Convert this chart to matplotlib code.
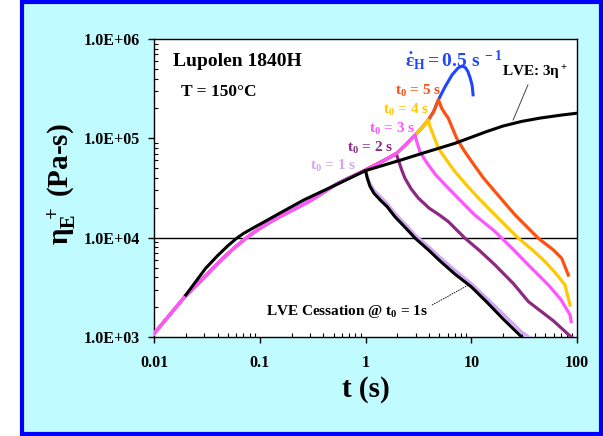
import matplotlib
matplotlib.use("Agg")
import matplotlib.pyplot as plt
from matplotlib.patches import Rectangle

plt.rcParams["font.family"] = ["Liberation Serif", "DejaVu Serif"]
plt.rcParams["font.weight"] = "bold"
plt.rcParams["mathtext.fontset"] = "custom"
plt.rcParams["mathtext.rm"] = "Liberation Serif:bold"
plt.rcParams["mathtext.bf"] = "Liberation Serif:bold"
plt.rcParams["mathtext.it"] = "Liberation Serif:bold:italic"

# shared nonlinear growth curve (all coloured runs)
growth_t = [0.01, 0.0196, 0.032, 0.04, 0.05, 0.06, 0.07, 0.08, 0.09, 0.11, 0.15, 0.2, 0.3, 0.54,
            1.0, 1.5, 1.95, 2.4, 2.94, 3.4, 3.93, 4.4, 4.89]
growth_eta = [1.08e3, 2.55e3, 4.3e3, 5.5e3, 6.9e3, 8.2e3, 9.4e3, 1.05e4, 1.15e4, 1.32e4, 1.6e4,
              1.87e4, 2.35e4, 3.5e4, 4.8e4, 6.0e4, 7.0e4, 8.6e4, 1.08e5, 1.27e5, 1.53e5,
              1.85e5, 2.44e5]

# continuation of constant rate run (0.5 1/s) up to rupture
blue_t = [5.65, 6.58, 7.5, 8.0, 8.36, 8.8, 9.3, 9.8, 10.2, 10.4]
blue_eta = [3.3e5, 4.35e5, 5.1e5, 5.3e5, 5.3e5, 5.15e5, 4.7e5, 4.0e5, 3.4e5, 2.74e5]

# relaxation after cessation at t0
t0_values = [1, 2, 3, 4, 5]
t0_peak = {1: 1.0, 2: 1.95, 3: 2.94, 4: 3.93, 5: 4.89}
decay_t = {
    1: [1.04, 1.1, 1.2, 1.4, 1.6, 1.9, 2.4, 2.94, 4.0, 5.0, 7.0, 10.0, 14.0, 20.0, 30.0, 35.0],
    2: [2.05, 2.2, 2.36, 2.7, 3.16, 4.0, 5.0, 6.07, 8.73, 12.0, 16.8, 25.0, 34.7, 60.0, 88.0],
    3: [3.05, 3.27, 3.6, 3.93, 4.6, 5.65, 8.1, 10.8, 16.8, 25.0, 34.7, 53.6, 70.0, 86.0, 88.0],
    4: [4.07, 4.38, 4.89, 5.8, 7.0, 9.0, 11.7, 16.8, 27.9, 38.0, 49.9, 65.0, 77.0, 86.0],
    5: [5.26, 5.6, 6.07, 7.28, 8.5, 10.1, 13.0, 16.8, 26.0, 43.0, 60.0, 71.6, 82.8],
}
decay_eta = {
    1: [4.1e4, 3.5e4, 3.0e4, 2.55e4, 2.2e4, 1.75e4, 1.35e4, 1.06e4, 8.0e3, 6.4e3, 4.7e3,
        3.45e3, 2.45e3, 1.7e3, 1.12e3, 1.0e3],
    2: [6.0e4, 4.8e4, 3.96e4, 3.1e4, 2.5e4, 1.98e4, 1.69e4, 1.45e4, 9.86e3, 7.4e3, 5.3e3,
        3.45e3, 2.27e3, 1.45e3, 1.0e3],
    3: [9.27e4, 7.35e4, 6.2e4, 5.4e4, 4.3e4, 3.4e4, 2.3e4, 1.69e4, 1.15e4, 7.6e3, 5.3e3,
        3.34e3, 2.4e3, 1.67e3, 1.43e3],
    4: [1.31e5, 1.08e5, 7.94e4, 6.1e4, 4.62e4, 3.4e4, 2.5e4, 1.69e4, 9.86e3, 7.5e3, 5.74e3,
        4.2e3, 3.34e3, 2.1e3],
    5: [2.0e5, 1.8e5, 1.59e5, 1.0e5, 7.6e4, 5.82e4, 4.0e4, 2.9e4, 1.69e4, 9.86e3, 7.5e3,
        6.2e3, 4.2e3],
}
run_colors = {1: "#d2a6f5", 2: "#8c2a82", 3: "#ff55ff", 4: "#ffc800", 5: "#ff5010"}

# linear viscoelastic envelope 3*eta+ and LVE cessation at 1 s
lve_t = [0.02, 0.0308, 0.04, 0.05, 0.06, 0.07, 0.09, 0.11, 0.16, 0.262, 0.54, 1.0, 2.19, 3.5,
         7.0, 14.0, 20.0, 30.0, 45.0, 70.0, 100.0]
lve_eta = [2.65e3, 4.92e3, 6.6e3, 8.3e3, 9.8e3, 1.1e4, 1.28e4, 1.44e4, 1.8e4, 2.4e4, 3.45e4,
           4.73e4, 6.07e4, 7.1e4, 8.9e4, 1.17e5, 1.33e5, 1.48e5, 1.6e5, 1.71e5, 1.79e5]
cess_t = [1.0, 1.04, 1.1, 1.2, 1.4, 1.6, 1.9, 2.4, 2.94, 4.0, 5.0, 7.0, 10.0, 14.0, 20.0, 30.0]
cess_eta = [4.73e4, 3.96e4, 3.3e4, 2.8e4, 2.35e4, 2.05e4, 1.62e4, 1.25e4, 9.9e3, 7.4e3, 5.9e3,
            4.3e3, 3.2e3, 2.25e3, 1.52e3, 1.0e3]

yticks = [1e3, 1e4, 1e5, 1e6]
ytick_labels = ["1.0E+03", "1.0E+04", "1.0E+05", "1.0E+06"]
xticks = [0.01, 0.1, 1, 10, 100]
xtick_labels = ["0.01", "0.1", "1", "10", "100"]

fig = plt.figure(figsize=(6.03, 4.36), dpi=100)
fig.patch.set_facecolor("white")
fig.patches.append(Rectangle((22 / 603, 2 / 436), 579 / 603, 432 / 436,
                             transform=fig.transFigure, facecolor="#c0fbff",
                             edgecolor="#0000ff", lw=3, zorder=-10))

ax = fig.add_axes([0.2554, 0.2271, 0.7015, 0.6835])
ax.set_zorder(1)
ax.set_facecolor("white")
ax.set_xscale("log")
ax.set_yscale("log")
ax.set_xlim(0.01, 100)
ax.set_ylim(1e3, 1e6)

ax.axhline(1e4, color="black", lw=1, zorder=1)


def growth_until(t0):
    ts = [t for t in growth_t if t <= t0 + 1e-9]
    return ts, growth_eta[:len(ts)]


# rate run (blue) underneath everything
ax.plot(growth_t + blue_t, growth_eta + blue_eta, color="#1f45ff", lw=2.2, zorder=2)

for t0 in [5, 4, 2, 1, 3]:
    gt, ge = growth_until(t0_peak[t0])
    ax.plot(gt + decay_t[t0], ge + decay_eta[t0], color=run_colors[t0], lw=2.3, zorder=3,
            solid_joinstyle="round")

ax.plot(lve_t, lve_eta, color="black", lw=2.2, zorder=4)
ax.plot(cess_t, cess_eta, color="black", lw=2.2, zorder=4)

ax.set_xticks(xticks)
ax.set_xticklabels(xtick_labels)
ax.set_yticks(yticks)
ax.set_yticklabels(ytick_labels)
ax.tick_params(which="major", direction="out", length=4, width=1, labelsize=11.5)
ax.tick_params(which="minor", direction="in", length=3, width=0.8)
ax.tick_params(axis="x", which="major", pad=9)
ax.tick_params(axis="y", which="major", pad=6)
for lab in ax.get_xticklabels() + ax.get_yticklabels():
    lab.set_fontweight("bold")
for s in ax.spines.values():
    s.set_linewidth(1)

fig.text(62 / 603, 1 - 184 / 436, r"$\mathbf{\eta_E^{\ +}}$ (Pa-s)", rotation=90,
         ha="center", va="center", fontsize=21, fontweight="bold")
fig.text(366 / 603, 1 - 389 / 436, "t (s)", ha="center", va="center",
         fontsize=21, fontweight="bold")

tr = ax.transAxes
ax.text(0.045, 0.923, "Lupolen 1840H", transform=tr, fontsize=14, va="center")
ax.text(0.064, 0.822, "T = 150°C", transform=tr, fontsize=12.5, va="center")
ax.text(0.593, 0.93, r"$\mathbf{\dot{\varepsilon}_H = 0.5\ s^{\ -1}}$", transform=tr,
        fontsize=14, va="center", color="#1f45ff")
ax.text(0.823, 0.886, r"LVE: 3$\mathbf{\eta^+}$", transform=tr, fontsize=11, va="center")
label_pos = {5: (0.570, 0.826), 4: (0.541, 0.762), 3: (0.508, 0.698), 2: (0.456, 0.634), 1: (0.369, 0.574)}
for t0 in t0_values:
    x, y = label_pos[t0]
    ax.text(x, y, r"$\mathbf{t_0}$ = %d s" % t0, transform=tr, fontsize=11,
            va="center", color=run_colors[t0])
ax.text(0.264, 0.087, r"LVE Cessation @ $\mathbf{t_0}$ = 1s", transform=tr,
        fontsize=11, va="center")

ax.plot([0.884, 0.849], [0.846, 0.728], transform=tr, color="#444444", lw=0.7)
ax.plot([0.657, 0.752], [0.107, 0.181], transform=tr, color="black", lw=0.6, ls=(0, (2, 1)))

fig.savefig("out.png", dpi=100)
